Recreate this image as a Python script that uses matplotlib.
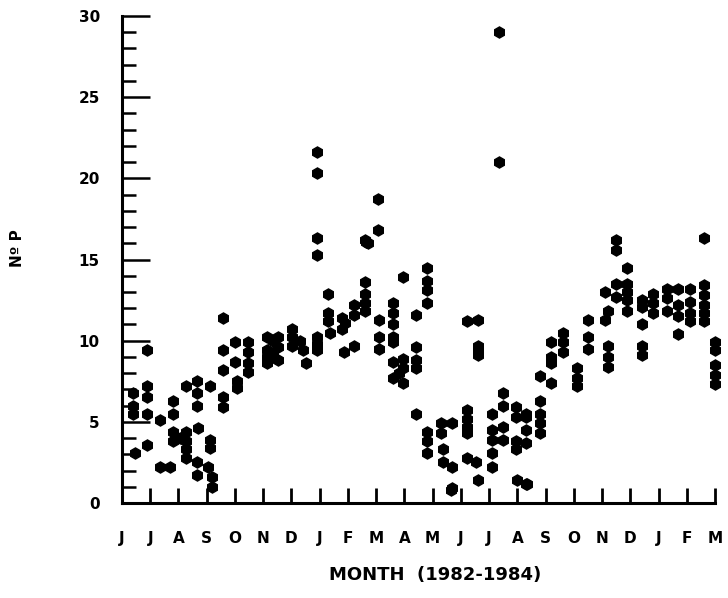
import matplotlib
matplotlib.use('Agg')
import matplotlib.pyplot as plt
from matplotlib.ticker import MultipleLocator

# month tick labels, Jun 1982 .. Mar 1984
months = ['J', 'J', 'A', 'S', 'O', 'N', 'D', 'J', 'F', 'M', 'A',
          'M', 'J', 'J', 'A', 'S', 'O', 'N', 'D', 'J', 'F', 'M']

# sampling position (month index, fractional) and No. P per sample
# Jun - Dec 1982
x_1982 = [0.40, 0.40, 0.40, 0.46,
          0.90, 0.90, 0.90, 0.90, 0.90,
          1.35, 1.35,
          1.70, 1.80, 1.80, 1.80, 1.80,
          2.05, 2.25, 2.25, 2.25, 2.25, 2.25,
          2.65, 2.65, 2.65, 2.70, 2.65, 2.65,
          3.12, 3.12, 3.12, 3.05, 3.20, 3.20,
          3.58, 3.58, 3.58, 3.58, 3.58,
          4.00, 4.00, 4.07, 4.07,
          4.45, 4.45, 4.45, 4.45,
          5.14, 5.14, 5.14, 5.14,
          5.35, 5.35,
          5.53, 5.53, 5.53,
          6.03, 6.03, 6.03,
          6.30, 6.40, 6.50,
          6.90, 6.90, 6.90, 6.90, 6.90, 6.90, 6.90]
y_1982 = [6.8, 6.0, 5.5, 3.1,
          9.4, 7.2, 6.5, 5.5, 3.6,
          5.1, 2.2,
          2.2, 6.3, 5.5, 4.4, 3.8,
          4.0, 7.2, 4.4, 3.8, 3.3, 2.8,
          7.5, 6.8, 6.0, 4.6, 2.5, 1.7,
          7.2, 3.9, 3.4, 2.2, 1.6, 1.0,
          11.4, 9.4, 8.2, 6.5, 5.9,
          9.9, 8.7, 7.5, 7.1,
          9.9, 9.3, 8.6, 8.1,
          10.2, 9.4, 8.6, 9.0,
          10.0, 9.2,
          10.2, 9.6, 8.8,
          10.7, 9.7, 10.2,
          10.0, 9.4, 8.6,
          10.2, 9.4, 21.6, 20.3, 16.3, 15.3, 9.8]

# Jan - Jun 1983
x_1983a = [7.30, 7.30, 7.30, 7.35,
           7.80, 7.80, 7.85,
           7.90, 8.20, 8.20, 8.20,
           8.60, 8.60, 8.60, 8.60,
           8.60, 8.65, 8.70,
           9.05, 9.05,
           9.10, 9.10, 9.10,
           9.60, 9.60, 9.60, 9.60, 9.60, 9.60, 9.60,
           9.80, 9.95, 9.95, 9.95, 9.95,
           10.40, 10.40, 10.40, 10.40, 10.40,
           10.80, 10.80, 10.80, 10.80, 10.80, 10.80, 10.80,
           11.30, 11.30, 11.35, 11.35,
           11.70, 11.70, 11.70, 11.65,
           12.20, 12.20, 12.20, 12.20, 12.20, 12.20,
           12.60, 12.60, 12.60, 12.60, 12.55, 12.60]
y_1983a = [12.9, 11.7, 11.2, 10.5,
           11.4, 10.7, 9.3,
           11.1, 12.2, 11.6, 9.7,
           13.6, 12.9, 12.3, 11.8,
           16.2, 16.1, 16.0,
           18.7, 16.8,
           11.3, 10.2, 9.5,
           12.3, 11.7, 11.0, 10.2, 9.9, 8.7, 7.7,
           8.0, 13.9, 8.9, 8.3, 7.4,
           11.6, 9.6, 8.8, 8.3, 5.5,
           14.5, 13.7, 13.1, 12.3, 4.4, 3.8, 3.1,
           4.9, 4.3, 3.3, 2.5,
           4.9, 2.2, 0.9, 0.8,
           11.2, 5.7, 5.2, 4.7, 4.3, 2.8,
           11.3, 9.7, 9.4, 9.1, 2.5, 1.4]

# Jul - Nov 1983
x_1983b = [13.10, 13.10, 13.10, 13.10, 13.10,
           13.35, 13.35,
           13.50, 13.50, 13.50, 13.50,
           13.95, 13.95, 13.95, 13.95, 14.00,
           14.30, 14.30, 14.30, 14.30, 14.30, 14.35,
           14.80, 14.80, 14.80, 14.80, 14.80,
           15.20, 15.20, 15.20, 15.20,
           15.60, 15.60, 15.60,
           16.10, 16.10, 16.10,
           16.50, 16.50, 16.50,
           17.10, 17.10, 17.20, 17.20, 17.20, 17.20,
           17.50, 17.50, 17.50, 17.50,
           17.90, 17.90, 17.90, 17.90, 17.90]
y_1983b = [5.5, 4.5, 3.9, 3.1, 2.2,
           29.0, 21.0,
           6.8, 6.0, 4.7, 3.9,
           5.9, 5.3, 3.8, 3.3, 1.4,
           5.5, 5.3, 4.5, 3.7, 1.2, 1.2,
           7.8, 6.3, 5.5, 4.9, 4.3,
           9.9, 9.0, 8.6, 7.4,
           10.5, 9.9, 9.3,
           8.3, 7.7, 7.2,
           11.3, 10.2, 9.5,
           13.0, 11.3, 11.8, 9.7, 9.0, 8.4,
           16.2, 15.6, 13.5, 12.7,
           14.5, 13.5, 13.0, 12.5, 11.8]

# Dec 1983 - Mar 1984
x_1984 = [18.40, 18.40, 18.40, 18.40, 18.40,
          18.80, 18.80, 18.80,
          19.30, 19.30, 19.30,
          19.70, 19.70, 19.70, 19.70,
          20.10, 20.10, 20.10, 20.10,
          20.60, 20.60, 20.60, 20.60, 20.60, 20.60,
          21.00, 21.00, 21.00, 21.00, 21.00]
y_1984 = [12.5, 12.1, 11.0, 9.7, 9.1,
          12.9, 12.3, 11.7,
          13.2, 12.6, 11.8,
          13.2, 12.2, 11.5, 10.4,
          13.2, 12.4, 11.7, 11.2,
          16.3, 13.4, 12.8, 12.2, 11.7, 11.2,
          9.9, 9.4, 8.5, 7.9, 7.3]

fig = plt.figure(figsize=(7.28, 5.98), dpi=100)
ax = fig.add_axes([122/728, 95/598, 593/728, 487/598])

for xs, ys in [(x_1982, y_1982), (x_1983a, y_1983a), (x_1983b, y_1983b), (x_1984, y_1984)]:
    ax.plot(xs, ys, 'h', color='black', markersize=8, clip_on=False)

ax.set_xlim(0, 21)
ax.set_ylim(0, 30)
ax.spines['top'].set_visible(False)
ax.spines['right'].set_visible(False)
ax.spines['left'].set_linewidth(2.2)
ax.spines['bottom'].set_linewidth(2.2)

ax.set_xticks(range(len(months)))
ax.set_xticklabels(months, fontsize=11, fontweight='bold')
ax.tick_params(axis='x', direction='in', length=11, width=2, pad=20)

ax.yaxis.set_major_locator(MultipleLocator(5))
ax.yaxis.set_minor_locator(MultipleLocator(1))
ax.tick_params(axis='y', which='major', direction='in', length=20, width=1.8, pad=16,
               labelsize=11)
ax.tick_params(axis='y', which='minor', direction='in', length=10, width=1.8)
for lbl in ax.get_yticklabels():
    lbl.set_fontweight('bold')

fig.text(435/728, 1 - 575/598, 'MONTH  (1982-1984)', ha='center', va='center',
         fontsize=13, fontweight='bold')
fig.text(18/728, 1 - 248/598, 'Nº P', ha='center', va='center', rotation=90,
         fontsize=11, fontweight='bold')

fig.savefig('out.png', dpi=100)
